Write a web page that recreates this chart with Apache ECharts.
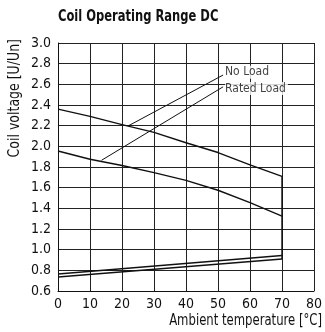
<!DOCTYPE html>
<html>
<head>
<meta charset="utf-8">
<script src="https://cdn.jsdelivr.net/npm/echarts@6/dist/echarts.min.js"></script>
<style>
html,body{margin:0;padding:0;background:#fff;}
#chart{width:325px;height:332px;}
</style>
</head>
<body>
<div id="chart"></div>
<script>
var FONT = '"DejaVu Sans Condensed","Liberation Sans Narrow",sans-serif';

var titleText = 'Coil Operating Range DC';
var xAxisName = 'Ambient temperature [°C]';
var yAxisName = 'Coil voltage [U/Un]';

var temperatures = [0, 10, 20, 30, 40, 50, 60, 70];
var noLoadUpper = [2.36, 2.29, 2.21, 2.135, 2.035, 1.94, 1.82, 1.71];
var ratedLoadUpper = [1.955, 1.875, 1.815, 1.745, 1.67, 1.575, 1.455, 1.325];

var lowerTemps = [0, 70];
var noLoadLower = [0.765, 0.943];
var ratedLoadLower = [0.735, 0.91];

var cutoffTemps = [70, 70];
var cutoffValues = [1.71, 0.91];

var labelNames = ['No Load', 'Rated Load'];
var labelTemps = [52.2, 52.2];
var labelValues = [2.716, 2.56];
var leaderStartTemps = [21.9, 13.6];
var leaderStartValues = [2.197, 1.865];
var leaderEndTemps = [51.6, 51.6];
var leaderEndValues = [2.69, 2.576];

function pairs(xs, ys) { return xs.map(function (x, i) { return [x, ys[i]]; }); }

function curve(name, data, w) {
  return {
    name: name, type: 'line', data: data, symbol: 'none', silent: true,
    lineStyle: { color: '#111', width: w || 1.4 }, z: 3
  };
}

var series = [
  curve('No Load upper', pairs(temperatures, noLoadUpper)),
  curve('Rated Load upper', pairs(temperatures, ratedLoadUpper)),
  curve('No Load lower', pairs(lowerTemps, noLoadLower)),
  curve('Rated Load lower', pairs(lowerTemps, ratedLoadLower)),
  curve('Cutoff', pairs(cutoffTemps, cutoffValues))
];
labelNames.forEach(function (n, i) {
  series.push(curve(n + ' leader', [[leaderStartTemps[i], leaderStartValues[i]], [leaderEndTemps[i], leaderEndValues[i]]], 1));
});
series.push({
  type: 'scatter', symbolSize: 0, silent: true, z: 5,
  data: labelNames.map(function (n, i) { return { value: [labelTemps[i], labelValues[i]], name: n }; }),
  label: {
    show: true, position: 'right', distance: 0,
    formatter: function (p) { return p.name; },
    fontFamily: FONT, fontSize: 12, color: '#111',
    backgroundColor: '#fff', padding: [0, 2, 0, 0], lineHeight: 13
  }
});

var chart = echarts.init(document.getElementById('chart'), null, { renderer: 'canvas' });
chart.setOption({
  animation: false,
  backgroundColor: '#fff',
  grid: { left: 58, right: 3, top: 43, bottom: 41 },
  xAxis: {
    type: 'value', min: 0, max: 80, interval: 10,
    axisLine: { show: true, lineStyle: { color: '#111', width: 1 } },
    axisTick: { show: false },
    splitLine: { show: true, lineStyle: { color: '#222', width: 1 } },
    axisLabel: { fontFamily: FONT, fontSize: 14, color: '#111', margin: 6 }
  },
  yAxis: {
    type: 'value', min: 0.6, max: 3.0, interval: 0.2,
    axisLine: { show: true, lineStyle: { color: '#111', width: 1 } },
    axisTick: { show: false },
    splitLine: { show: true, lineStyle: { color: '#222', width: 1 } },
    axisLabel: {
      fontFamily: FONT, fontSize: 14, color: '#111', margin: 7,
      formatter: function (v) { return v.toFixed(1); }
    }
  },
  graphic: [
    {
      type: 'text', x: 58, y: 17, scaleX: 0.8, silent: true,
      style: { text: titleText, font: 'bold 16px ' + FONT, fill: '#111', align: 'left', verticalAlign: 'middle' }
    },
    {
      type: 'text', x: 322, y: 321, scaleX: 0.81, silent: true,
      style: { text: xAxisName, font: '16px ' + FONT, fill: '#111', align: 'right', verticalAlign: 'middle' }
    },
    {
      type: 'text', x: 15, y: 39, rotation: Math.PI / 2, scaleX: 0.87, silent: true,
      style: { text: yAxisName, font: '16px ' + FONT, fill: '#111', align: 'right', verticalAlign: 'middle' }
    }
  ],
  series: series
});
</script>
</body>
</html>
